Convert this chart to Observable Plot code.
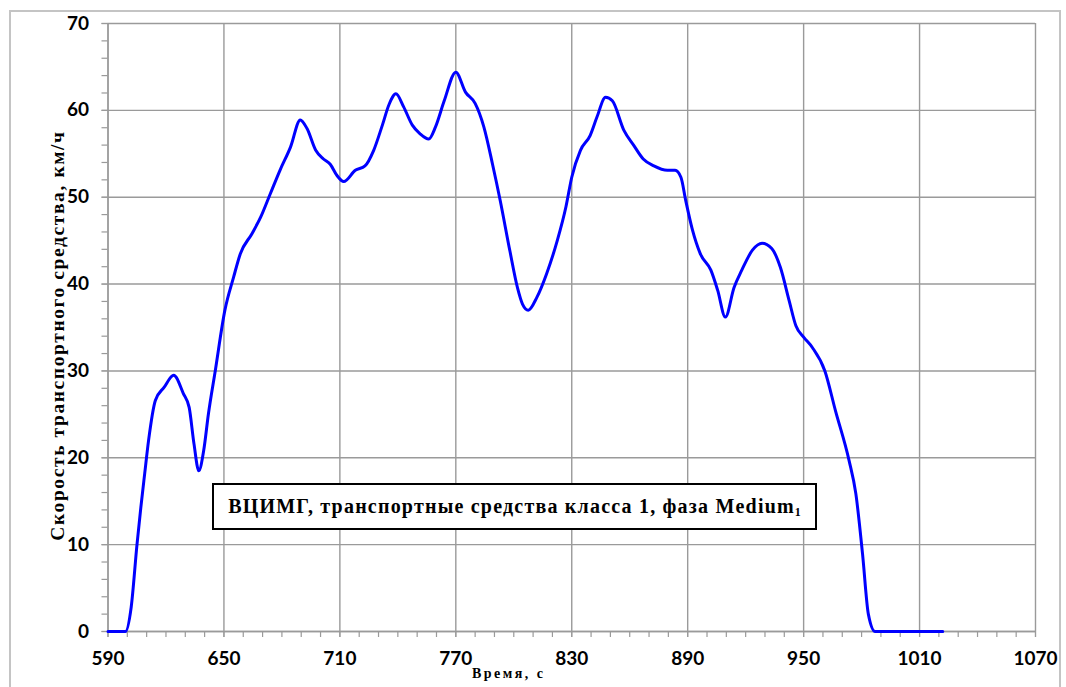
<!DOCTYPE html>
<html>
<head>
<meta charset="utf-8">
<script src="https://cdn.jsdelivr.net/npm/d3@7"></script>
<script src="https://cdn.jsdelivr.net/npm/@observablehq/plot@0.6"></script>
<style>
  html, body { margin: 0; padding: 0; background: #fff; }
  #wrap { position: relative; width: 1066px; height: 687px; overflow: hidden; }
  #frame { position: absolute; left: 9px; top: 10px; width: 1052px; height: 700px; border: 2px solid #c4c4c4; box-sizing: border-box; }
  #chart { position: absolute; left: 0; top: 0; }
  #note { position: absolute; left: 212px; top: 483px; width: 605px; height: 47px; box-sizing: border-box;
          border: 2px solid #000; background: #fff; font-family: "Liberation Serif", "Times New Roman", serif; font-weight: bold;
          font-size: 20px; letter-spacing: 1.2px; line-height: 43px; text-align: center; color: #000; white-space: nowrap; }
  #note sub { font-size: 12px; vertical-align: -3px; line-height: 0; letter-spacing: 0; }
</style>
</head>
<body>
<div id="wrap">
  <div id="frame"></div>
  <div id="chart"></div>
  <div id="note"><span>ВЦИМГ, транспортные средства класса 1, фаза Medium<sub>1</sub></span></div>
</div>
<script>
const time = [590, 599, 602, 605, 607, 609, 611, 614.5, 619, 624, 629, 632, 634.5, 637, 639.5, 642, 645.5, 650.5, 655, 658.5, 664.5, 669, 674, 679, 684.5, 689.5, 693, 697.5, 701.5, 705, 708.5, 712, 718, 723, 727.5, 732, 735.5, 739, 743, 747.5, 751.5, 756, 759.5, 764, 770, 775, 780, 784.5, 789, 793, 798, 802, 804.5, 807.5, 812, 817, 822.5, 827, 830, 834.5, 839.5, 843, 847.5, 851, 857, 862, 867, 872.5, 879.5, 883.5, 886.5, 889, 892.5, 896.5, 902, 905.5, 909.5, 914, 918, 923.5, 928.5, 933.5, 938, 942.5, 946, 950, 954.5, 961, 966.5, 973.5, 977, 980.5, 983.5, 987, 1022];
const speed = [0, 0, 2.8, 10, 14.3, 18.2, 22.0, 26.6, 28.1, 29.5, 27.4, 25.8, 21.6, 18.5, 20.8, 25.1, 30.0, 37.0, 40.8, 43.5, 45.8, 47.7, 50.4, 53.1, 55.8, 58.9, 57.9, 55.4, 54.4, 53.8, 52.5, 51.8, 53.1, 53.6, 55.4, 58.3, 60.7, 61.9, 60.4, 58.3, 57.3, 56.7, 58.1, 61.1, 64.4, 62.1, 60.8, 58.1, 53.8, 49.6, 43.8, 39.5, 37.7, 37.0, 38.5, 41.2, 45.0, 48.9, 52.3, 55.4, 57.1, 59.2, 61.5, 61.1, 57.7, 56.0, 54.4, 53.6, 53.1, 53.1, 52.3, 49.6, 46.2, 43.5, 41.6, 39.3, 36.2, 39.6, 41.6, 43.9, 44.7, 44.1, 41.9, 38.1, 35.2, 33.9, 32.7, 30.0, 25.4, 19.7, 15.9, 8.9, 2.0, 0, 0];
const xMajorTicks = [590, 650, 710, 770, 830, 890, 950, 1010, 1070];
const xMinorTicks = d3.range(590, 1071, 10);
const yMajorTicks = [0, 10, 20, 30, 40, 50, 60, 70];
const yMinorTicks = d3.range(0, 71, 2);
const xTitle = "Время, с";
const yTitle = "Скорость транспортного средства, км/ч";

const data = time.map((t, i) => ({t, v: speed[i]}));
const gridColor = "#9a9a9a";
const serif = "'Liberation Serif', 'Times New Roman', serif";

const chart = Plot.plot({
  width: 1066,
  height: 687,
  marginLeft: 107.5,
  marginRight: 31,
  marginTop: 23,
  marginBottom: 56,
  style: {fontFamily: "Lato, 'Open Sans', sans-serif", background: "transparent", overflow: "visible"},
  x: {domain: [590, 1070]},
  y: {domain: [0, 70]},
  marks: [
    Plot.gridX(xMajorTicks, {stroke: gridColor, strokeOpacity: 1, strokeWidth: 1.4}),
    Plot.gridY(yMajorTicks, {stroke: gridColor, strokeOpacity: 1, strokeWidth: 1.4}),
    Plot.ruleX([590], {stroke: gridColor, strokeWidth: 1.4}),
    Plot.ruleY([0], {stroke: gridColor, strokeWidth: 1.4}),
    Plot.axisX(xMinorTicks, {anchor: "bottom", tickSize: 6, tickFormat: () => "", stroke: gridColor, strokeWidth: 1.2, label: null}),
    Plot.axisY(yMinorTicks, {anchor: "left", tickSize: 6, tickFormat: () => "", stroke: gridColor, strokeWidth: 1.2, label: null}),
    Plot.axisX(xMajorTicks, {anchor: "bottom", tickSize: 6, tickPadding: 14, tickFormat: d3.format("d"), fontSize: 19, fontWeight: "bold", stroke: gridColor, strokeWidth: 1.2, fill: "#000", label: null}),
    Plot.axisY(yMajorTicks, {anchor: "left", tickSize: 6, tickPadding: 13, tickFormat: d3.format("d"), fontSize: 19, fontWeight: "bold", stroke: gridColor, strokeWidth: 1.2, fill: "#000", label: null}),
    Plot.line(data, {x: "t", y: "v", stroke: "#0000ff", strokeWidth: 3, curve: "monotone-x"}),
    Plot.text([yTitle], {frameAnchor: "left", textAnchor: "middle", rotate: -90, dx: -50, dy: 8, fontSize: 19.5, fontWeight: "bold", fontFamily: serif, fill: "#000"}),
    Plot.text([xTitle], {frameAnchor: "bottom", textAnchor: "middle", dx: -63, dy: 46, fontSize: 14, fontWeight: "bold", fontFamily: serif, fill: "#000"})
  ]
});
d3.select(chart).selectAll("text")
  .filter(function () { return this.textContent === yTitle; })
  .style("letter-spacing", "1.6px");
d3.select(chart).selectAll("text")
  .filter(function () { return this.textContent === xTitle; })
  .style("letter-spacing", "2.5px");
document.getElementById("chart").appendChild(chart);
</script>
</body>
</html>
